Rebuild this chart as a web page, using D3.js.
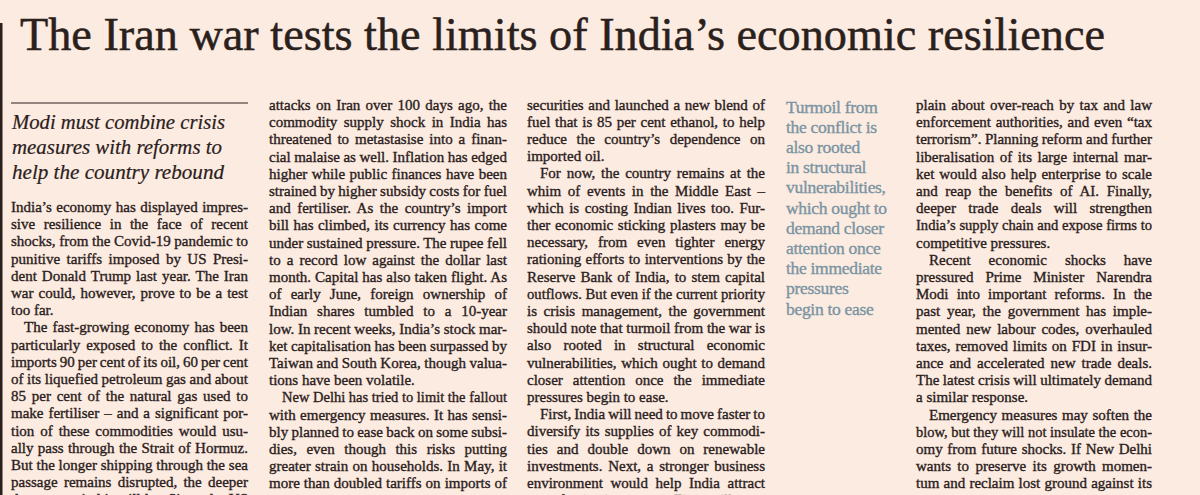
<!DOCTYPE html>
<html>
<head>
<meta charset="utf-8">
<script src="https://cdn.jsdelivr.net/npm/d3@7"></script>
<style>
  html, body { margin: 0; padding: 0; background: #fcebe0; }
  svg { display: block; }
</style>
</head>
<body>
<svg id="page" width="1200" height="495"></svg>
<script>
// ---------- content ----------
const headline = "The Iran war tests the limits of India\u2019s economic resilience";

const subheadLines = [
  "Modi must combine crisis",
  "measures with reforms to",
  "help the country rebound"
];

const pullquoteLines = [
  "Turmoil from", "the conflict is", "also rooted", "in structural",
  "vulnerabilities,", "which ought to", "demand closer", "attention once",
  "the immediate", "pressures", "begin to ease"
];

const col1Lines = [
  "India\u2019s economy has displayed impres-",
  "sive resilience in the face of recent",
  "shocks, from the Covid-19 pandemic to",
  "punitive tariffs imposed by US Presi-",
  "dent Donald Trump last year. The Iran",
  "war could, however, prove to be a test",
  "too far.",
  "The fast-growing economy has been",
  "particularly exposed to the conflict. It",
  "imports 90 per cent of its oil, 60 per cent",
  "of its liquefied petroleum gas and about",
  "85 per cent of the natural gas used to",
  "make fertiliser \u2013 and a significant por-",
  "tion of these commodities would usu-",
  "ally pass through the Strait of Hormuz.",
  "But the longer shipping through the sea",
  "passage remains disrupted, the deeper",
  "the economic hit will be. Since the US"
];
const col1ParaStarts = [7];

const col2Lines = [
  "attacks on Iran over 100 days ago, the",
  "commodity supply shock in India has",
  "threatened to metastasise into a finan-",
  "cial malaise as well. Inflation has edged",
  "higher while public finances have been",
  "strained by higher subsidy costs for fuel",
  "and fertiliser. As the country\u2019s import",
  "bill has climbed, its currency has come",
  "under sustained pressure. The rupee fell",
  "to a record low against the dollar last",
  "month. Capital has also taken flight. As",
  "of early June, foreign ownership of",
  "Indian shares tumbled to a 10-year",
  "low. In recent weeks, India\u2019s stock mar-",
  "ket capitalisation has been surpassed by",
  "Taiwan and South Korea, though valua-",
  "tions have been volatile.",
  "New Delhi has tried to limit the fallout",
  "with emergency measures. It has sensi-",
  "bly planned to ease back on some subsi-",
  "dies, even though this risks putting",
  "greater strain on households. In May, it",
  "more than doubled tariffs on imports of",
  "gold and silver to conserve its foreign"
];
const col2ParaStarts = [17];

const col3Lines = [
  "securities and launched a new blend of",
  "fuel that is 85 per cent ethanol, to help",
  "reduce the country\u2019s dependence on",
  "imported oil.",
  "For now, the country remains at the",
  "whim of events in the Middle East \u2013",
  "which is costing Indian lives too. Fur-",
  "ther economic sticking plasters may be",
  "necessary, from even tighter energy",
  "rationing efforts to interventions by the",
  "Reserve Bank of India, to stem capital",
  "outflows. But even if the current priority",
  "is crisis management, the government",
  "should note that turmoil from the war is",
  "also rooted in structural economic",
  "vulnerabilities, which ought to demand",
  "closer attention once the immediate",
  "pressures begin to ease.",
  "First, India will need to move faster to",
  "diversify its supplies of key commodi-",
  "ties and double down on renewable",
  "investments. Next, a stronger business",
  "environment would help India attract",
  "more foreign investment. Firms still com-"
];
const col3ParaStarts = [4, 18];

const col5Lines = [
  "plain about over-reach by tax and law",
  "enforcement authorities, and even \u201ctax",
  "terrorism\u201d. Planning reform and further",
  "liberalisation of its large internal mar-",
  "ket would also help enterprise to scale",
  "and reap the benefits of AI. Finally,",
  "deeper trade deals will strengthen",
  "India\u2019s supply chain and expose firms to",
  "competitive pressures.",
  "Recent economic shocks have",
  "pressured Prime Minister Narendra",
  "Modi into important reforms. In the",
  "past year, the government has imple-",
  "mented new labour codes, overhauled",
  "taxes, removed limits on FDI in insur-",
  "ance and accelerated new trade deals.",
  "The latest crisis will ultimately demand",
  "a similar response.",
  "Emergency measures may soften the",
  "blow, but they will not insulate the econ-",
  "omy from future shocks. If New Delhi",
  "wants to preserve its growth momen-",
  "tum and reclaim lost ground against its",
  "regional rivals, it will need to do more."
];
const col5ParaStarts = [9, 18];

// ---------- style ----------
const BG = "#fcebe0";
const INK = "#2a201c";
const QUOTE = "#7a94a3";
const SERIF = "'Liberation Serif', 'Times New Roman', serif";
const BODY_SIZE = 15;
const LINE_H = 17.2;
const INDENT = 13;

const svg = d3.select("#page");
svg.append("rect").attr("width", 1200).attr("height", 495).attr("fill", BG);

// left edge bar
svg.append("rect").attr("x", 0).attr("y", 23).attr("width", 2.5).attr("height", 472).attr("fill", INK);

// headline
const hx = d3.scaleLinear().domain([0, 1]).range([20, 1105]);
svg.append("text")
  .attr("x", hx(0)).attr("y", 50)
  .attr("font-family", SERIF).attr("font-size", 47)
  .attr("fill", INK).attr("stroke", INK).attr("stroke-width", 0.5)
  .attr("textLength", hx(1) - hx(0)).attr("lengthAdjust", "spacingAndGlyphs")
  .text(headline);

// rule above subhead
svg.append("line").attr("x1", 11).attr("x2", 248).attr("y1", 103).attr("y2", 103)
  .attr("stroke", INK).attr("stroke-width", 1.2);

// subhead
const subY = d3.scaleLinear().domain([0, 1]).range([129, 154]);
const subW = [213, 210, 212];
svg.append("g").selectAll("text").data(subheadLines).join("text")
  .attr("x", 12).attr("y", (d, i) => subY(i))
  .attr("font-family", SERIF).attr("font-style", "italic").attr("font-size", 21)
  .attr("fill", INK).attr("stroke", INK).attr("stroke-width", 0.2)
  .attr("textLength", (d, i) => subW[i]).attr("lengthAdjust", "spacingAndGlyphs")
  .text(d => d);

// pull quote
const pqY = d3.scaleLinear().domain([0, 1]).range([112.5, 132.7]);
svg.append("g").selectAll("text").data(pullquoteLines).join("text")
  .attr("x", 786).attr("y", (d, i) => pqY(i))
  .attr("font-family", SERIF).attr("font-size", 17.5)
  .attr("fill", QUOTE).attr("stroke", QUOTE).attr("stroke-width", 0.35)
  .attr("letter-spacing", -0.3)
  .text(d => d);

// body columns
function drawColumn(lines, paraStarts, x0, x1, base) {
  const g = svg.append("g")
    .attr("font-family", SERIF).attr("font-size", BODY_SIZE)
    .attr("fill", INK).attr("stroke", INK).attr("stroke-width", 0.35);
  const y = d3.scaleLinear().domain([0, 1]).range([base, base + LINE_H]);
  lines.forEach((s, i) => {
    const indent = paraStarts.includes(i) ? INDENT : 0;
    const lastOfPara = paraStarts.includes(i + 1);
    const avail = (x1 - x0) - indent;
    const t = g.append("text").attr("x", x0 + indent).attr("y", y(i)).text(s);
    const nat = t.node().getComputedTextLength();
    const spaces = (s.match(/ /g) || []).length;
    if (!lastOfPara) {
      const extra = avail - nat;
      if (spaces > 0 && extra >= -spaces * 0.8) {
        t.style("word-spacing", (extra / spaces) + "px");
      } else {
        t.attr("textLength", avail).attr("lengthAdjust", "spacingAndGlyphs");
      }
    } else if (nat > avail) {
      t.attr("textLength", avail).attr("lengthAdjust", "spacingAndGlyphs");
    }
  });
}

drawColumn(col1Lines, col1ParaStarts, 11, 248, 212);
drawColumn(col2Lines, col2ParaStarts, 269, 507, 110);
drawColumn(col3Lines, col3ParaStarts, 527, 765, 109.5);
drawColumn(col5Lines, col5ParaStarts, 916, 1152, 110);
</script>
</body>
</html>
